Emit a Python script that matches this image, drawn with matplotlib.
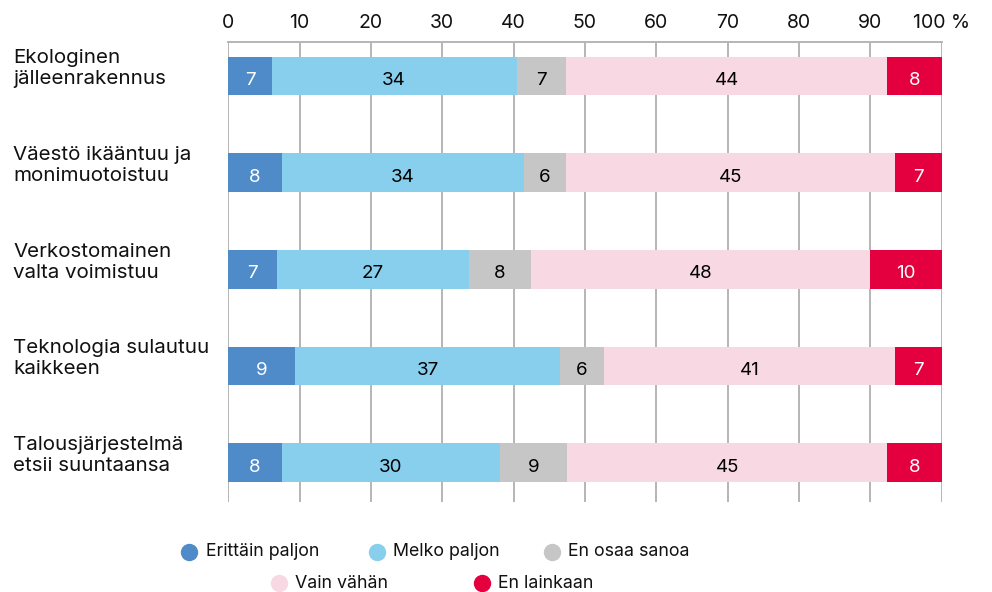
import matplotlib.pyplot as plt
from matplotlib.lines import Line2D
from matplotlib.transforms import blended_transform_factory
import numpy as np

plt.rcParams['font.family'] = ['Inter', 'DejaVu Sans']

# Data
categories = ["Ekologinen\njälleenrakennus",
              "Väestö ikääntuu ja\nmonimuotoistuu",
              "Verkostomainen\nvalta voimistuu",
              "Teknologia sulautuu\nkaikkeen",
              "Talousjärjestelmä\netsii suuntaansa"]
series_names = ["Erittäin paljon", "Melko paljon", "En osaa sanoa", "Vain vähän", "En lainkaan"]

# segment widths (%)
erittain = [6.1, 7.5, 6.8, 9.35, 7.5]
melko = [34.3, 33.9, 26.9, 37.15, 30.6]
en_osaa = [7.0, 6.0, 8.7, 6.15, 9.4]
vain = [45.0, 46.0, 47.5, 40.8, 44.9]
ei_lainkaan = [7.6, 6.6, 10.1, 6.55, 7.6]

# printed labels
lab_erittain = [7, 8, 7, 9, 8]
lab_melko = [34, 34, 27, 37, 30]
lab_en_osaa = [7, 6, 8, 6, 9]
lab_vain = [44, 45, 48, 41, 45]
lab_ei = [8, 7, 10, 7, 8]

ticks = [0, 10, 20, 30, 40, 50, 60, 70, 80, 90, 100]
tick_labels = ["0", "10", "20", "30", "40", "50", "60", "70", "80", "90", "100 %"]

colors = ["#4f8bc9", "#87cfed", "#c6c6c6", "#f8d9e3", "#e4003f"]
text_colors = ["white", "black", "black", "black", "white"]

values = [erittain, melko, en_osaa, vain, ei_lainkaan]
labels = [lab_erittain, lab_melko, lab_en_osaa, lab_vain, lab_ei]

fig = plt.figure(figsize=(9.92, 5.92), dpi=100)
ax = fig.add_axes([228.3 / 992, 1 - 502 / 592, 713.4 / 992, 460 / 592])

y = np.arange(len(categories))
left = np.zeros(len(categories))
for vals, labs, col, tcol in zip(values, labels, colors, text_colors):
    bars = ax.barh(y, vals, left=left, height=0.40, color=col, zorder=3)
    for b, lab in zip(bars, labs):
        ax.text(b.get_x() + b.get_width() / 2, b.get_y() + b.get_height() / 2 + 0.045,
                str(lab), ha='center', va='center', color=tcol, fontsize=13.5, zorder=4)
    left += np.array(vals)

ax.set_xlim(0, 100)
ax.set_ylim(4.405, -0.352)
ax.set_xticks(ticks)
ax.set_xticklabels(tick_labels, fontsize=14)
ax.xaxis.tick_top()
ax.tick_params(axis='x', length=0, pad=7, colors='#111111')
ax.set_yticks([])
ax.grid(axis='x', color='#b5b5b5', linewidth=1.4, zorder=0)
for s in ['left', 'right', 'bottom']:
    ax.spines[s].set_visible(False)
ax.spines['top'].set_color('#b5b5b5')
ax.spines['top'].set_linewidth(1.4)

# category labels on the left
trans = blended_transform_factory(fig.transFigure, ax.transData)
for i, cat in enumerate(categories):
    ax.text(13 / 992, i - 0.075, cat, transform=trans,
            ha='left', va='center', fontsize=14.8, linespacing=1.22, color='#111111')

# legend, two centred rows
legend_rows = [
    [(189, 205.7, 0), (376.7, 393, 1), (552, 568, 2)],
    [(279, 295, 3), (482, 498, 4)],
]
row_y = [551.7, 583]
for row, yy in zip(legend_rows, row_y):
    for cx, tx, k in row:
        fig.add_artist(Line2D([cx / 992], [1 - yy / 592], transform=fig.transFigure,
                              marker='o', markersize=11.5, color=colors[k], linestyle='none'))
        fig.text(tx / 992, 1 - yy / 592, series_names[k], ha='left', va='center',
                 fontsize=12.8, color='#111111')

fig.savefig("out.png", dpi=100)
